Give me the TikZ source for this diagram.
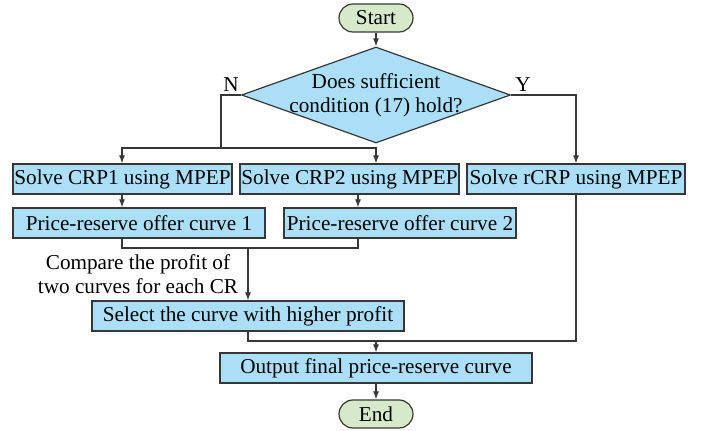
\documentclass[tikz,border=0pt]{standalone}
\usepackage{fontspec}
\setmainfont{Liberation Serif}
\usepackage{xcolor}
\usetikzlibrary{shapes.geometric,arrows.meta,positioning}
\definecolor{stepblue}{RGB}{171,223,248}
\definecolor{termgreen}{RGB}{214,233,200}
\definecolor{edgegray}{RGB}{55,55,55}
\tikzset{>={Latex[length=4pt,width=3pt]}}

\begin{document}
\begin{tikzpicture}[
x=0.5pt, y=-0.5pt,
font=\fontsize{10.6pt}{12pt}\selectfont,
conn/.style={draw=edgegray, line width=0.6pt},
stepbox/.style={rectangle, draw=edgegray, line width=0.6pt, fill=stepblue, minimum height=15pt, inner sep=0pt},
termnode/.style={rectangle, rounded corners=7pt, draw=edgegray, line width=0.6pt, fill=termgreen, minimum width=37pt, minimum height=14pt, inner sep=0pt},
decision/.style={diamond, draw=edgegray, line width=0.6pt, fill=stepblue, aspect=2.8, inner xsep=-7pt, inner ysep=0pt, minimum width=134.5pt, minimum height=48pt, align=center},
]
\useasboundingbox (0,0) rectangle (702,431);
%Nodes
\node[termnode](Start) at (376,18){Start};
\node[decision](Cond) at (376,95){Does sufficient\\condition (17) hold?};
\node[stepbox, minimum width=109.5pt](CRP1) at (122.5,179){Solve CRP1 using MPEP};
\node[stepbox, minimum width=109.5pt](CRP2) at (349.5,179){Solve CRP2 using MPEP};
\node[stepbox, minimum width=109pt](rCRP) at (576,179){Solve rCRP using MPEP};
\node[stepbox, minimum width=126pt](Curve1) at (139,223){Price-reserve offer curve 1};
\node[stepbox, minimum width=116pt](Curve2) at (400,223){Price-reserve offer curve 2};
\node[align=center](Compare) at (138,274){Compare the profit of\\two curves for each CR};
\node[stepbox, minimum width=156pt](Select) at (248,316){Select the curve with higher profit};
\node[stepbox, minimum width=156pt](Output) at (376,368){Output final price-reserve curve};
\node[termnode](End) at (376,414){End};
\node(N) at (231,85){N};
\node(Y) at (523,85){Y};
%Junctions
\coordinate (NBus) at (221,148);
\coordinate (C2) at (358,0);
\coordinate (Merge) at (0,248);
\coordinate (Join) at (0,341);
%Connectors
\draw[conn,->] (Start) -- (Cond);
\draw[conn] (Cond.west) -| (NBus);
\draw[conn,->] (NBus) -| (CRP1.north -| 122,0);
\draw[conn,->] (NBus) -| (CRP2.north -| Start);
\draw[conn,->] (Cond.east) -| (rCRP.north);
\draw[conn,->] (CRP1.south -| 122,0) -- (Curve1.north -| 122,0);
\draw[conn,->] (CRP2.south -| C2) -- (Curve2.north -| C2);
\draw[conn] (Curve1.south -| 122,0) |- (Merge -| C2) -- (Curve2.south -| C2);
\draw[conn,->] (Select.north |- Merge) -- (Select.north);
\draw[conn] (Select.south) |- (Join -| rCRP) -- (rCRP.south);
\draw[conn,->] (Output.north |- Join) -- (Output.north);
\draw[conn,->] (Output) -- (End);
\end{tikzpicture}
\end{document}
